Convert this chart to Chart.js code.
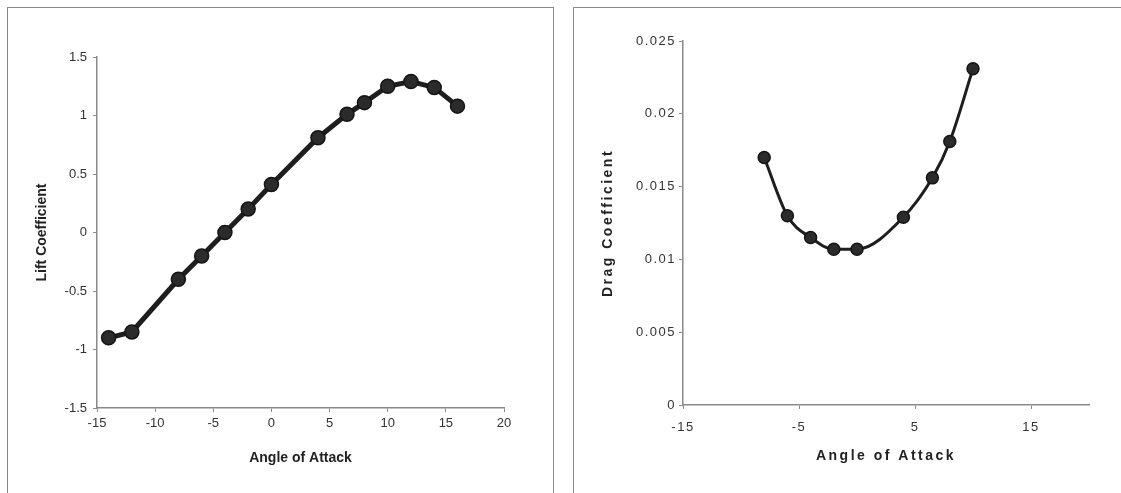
<!DOCTYPE html>
<html>
<head>
<meta charset="utf-8">
<script src="https://cdn.jsdelivr.net/npm/chart.js@4/dist/chart.umd.min.js"></script>
<style>
    body { margin: 0; background: #fff; width: 1121px; height: 493px; overflow: hidden; position: relative; }
    .panel { position: absolute; top: 7px; border: 1px solid #8a8a8a; border-bottom: none; box-sizing: border-box; }
    #leftPanel { left: 7px; width: 547px; height: 486px; }
    #rightPanel { left: 573px; width: 560px; height: 486px; }
    canvas { display: block; }
</style>
</head>
<body>
<div class="panel" id="leftPanel"><canvas id="liftChart" width="545" height="485"></canvas></div>
<div class="panel" id="rightPanel"><canvas id="dragChart" width="558" height="485"></canvas></div>
<script>
// lift curve
const liftAngles = [-14, -12, -8, -6, -4, -2, 0, 4, 6.5, 8, 10, 12, 14, 16];
const liftValues = [-0.9, -0.85, -0.4, -0.2, 0, 0.2, 0.41, 0.81, 1.01, 1.11, 1.25, 1.29, 1.24, 1.08];
const liftXTicks = [-15, -10, -5, 0, 5, 10, 15, 20];
const liftYTicks = [-1.5, -1, -0.5, 0, 0.5, 1, 1.5];
const liftYLabels = ['-1.5', '-1', '-0.5', '0', '0.5', '1', '1.5'];

// drag curve
const dragAngles = [-8, -6, -4, -2, 0, 4, 6.5, 8, 10];
const dragValues = [0.0170, 0.0130, 0.0115, 0.0107, 0.0107, 0.0129, 0.0156, 0.0181, 0.0231];
const dragXTicks = [-15, -5, 5, 15];
const dragYTicks = [0, 0.005, 0.01, 0.015, 0.02, 0.025];
const dragYLabels = ['0', '0.005', '0.01', '0.015', '0.02', '0.025'];

Chart.defaults.font.family = "'Liberation Sans', Arial, sans-serif";
Chart.defaults.animation = false;

function toPoints(xs, ys) {
    let pts = [];
    for (let i = 0; i < xs.length; i++) {
        pts.push({x: xs[i], y: ys[i]});
    }
    return pts;
}

function fixedTicks(list) {
    return function (scale) {
        scale.ticks = list.map(v => ({value: v}));
    };
}

function axisStyle(extra) {
    return Object.assign({
        grid: {drawOnChartArea: false, drawTicks: true, tickLength: 4, color: '#8a8a8a'},
        border: {display: true, color: '#8a8a8a', width: 1.5}
    }, extra);
}

// the drag chart uses wider letter spacing
const spacedText = {
    id: 'spacedText',
    beforeDraw: function (chart) {
        chart.ctx.letterSpacing = '1.5px';
        ['x', 'y'].forEach(function (id) {
            const sc = chart.scales[id];
            if (sc._spaced) return;
            const orig = sc.drawTitle;
            sc.drawTitle = function () {
                chart.ctx.save();
                chart.ctx.letterSpacing = '2.5px';
                orig.apply(this, arguments);
                chart.ctx.restore();
            };
            sc._spaced = true;
        });
    },
    afterDraw: function (chart) {
        chart.ctx.letterSpacing = '0px';
    }
};

new Chart("liftChart", {
    type: "scatter",
    data: {
        datasets: [{
            data: toPoints(liftAngles, liftValues),
            showLine: true,
            borderColor: "#1e1e1e",
            borderWidth: 5,
            pointRadius: 7,
            pointBackgroundColor: "#2b2b2b",
            pointBorderColor: "#151515",
            pointBorderWidth: 1.5
        }]
    },
    options: {
        responsive: false,
        layout: {padding: {top: 49, right: 49, left: 0, bottom: 0}},
        plugins: {legend: {display: false}, tooltip: {enabled: false}},
        scales: {
            x: axisStyle({
                type: 'linear', min: -15, max: 20,
                afterBuildTicks: fixedTicks(liftXTicks),
                afterFit: function (s) { s.height = 85; },
                ticks: {color: '#333', font: {size: 13}, padding: 4, maxRotation: 0},
                title: {display: true, text: 'Angle of Attack', color: '#222',
                    font: {size: 14, weight: 'bold'}, padding: {bottom: 26}}
            }),
            y: axisStyle({
                type: 'linear', min: -1.5, max: 1.5,
                afterBuildTicks: fixedTicks(liftYTicks),
                afterFit: function (s) { s.width = 89; },
                ticks: {
                    color: '#333', font: {size: 13}, padding: 6,
                    callback: function (value, index) { return liftYLabels[index]; }
                },
                title: {display: true, text: 'Lift Coefficient', color: '#222',
                    font: {size: 14, weight: 'bold'}, padding: {top: 26}}
            })
        }
    }
});

new Chart("dragChart", {
    type: "scatter",
    data: {
        datasets: [{
            data: toPoints(dragAngles, dragValues),
            showLine: true,
            tension: 0.4,
            cubicInterpolationMode: 'monotone',
            borderColor: "#1e1e1e",
            borderWidth: 3,
            pointRadius: 6,
            pointBackgroundColor: "#2b2b2b",
            pointBorderColor: "#151515",
            pointBorderWidth: 1.5
        }]
    },
    plugins: [spacedText],
    options: {
        responsive: false,
        layout: {padding: {top: 33, right: 43, left: 0, bottom: 0}},
        plugins: {legend: {display: false}, tooltip: {enabled: false}},
        scales: {
            x: axisStyle({
                type: 'linear', min: -15, max: 20,
                afterBuildTicks: fixedTicks(dragXTicks),
                afterFit: function (s) { s.height = 88; },
                ticks: {color: '#333', font: {size: 13}, padding: 11, maxRotation: 0},
                title: {display: true, text: 'Angle of Attack', color: '#222',
                    font: {size: 14, weight: 'bold'}, padding: {bottom: 28}}
            }),
            y: axisStyle({
                type: 'linear', min: 0, max: 0.025,
                afterBuildTicks: fixedTicks(dragYTicks),
                afterFit: function (s) { s.width = 109; },
                ticks: {
                    color: '#333', font: {size: 13}, padding: 3,
                    callback: function (value, index) { return dragYLabels[index]; }
                },
                title: {display: true, text: 'Drag Coefficient', color: '#222',
                    font: {size: 14, weight: 'bold'}, padding: {top: 26}}
            })
        }
    }
});
</script>
</body>
</html>
